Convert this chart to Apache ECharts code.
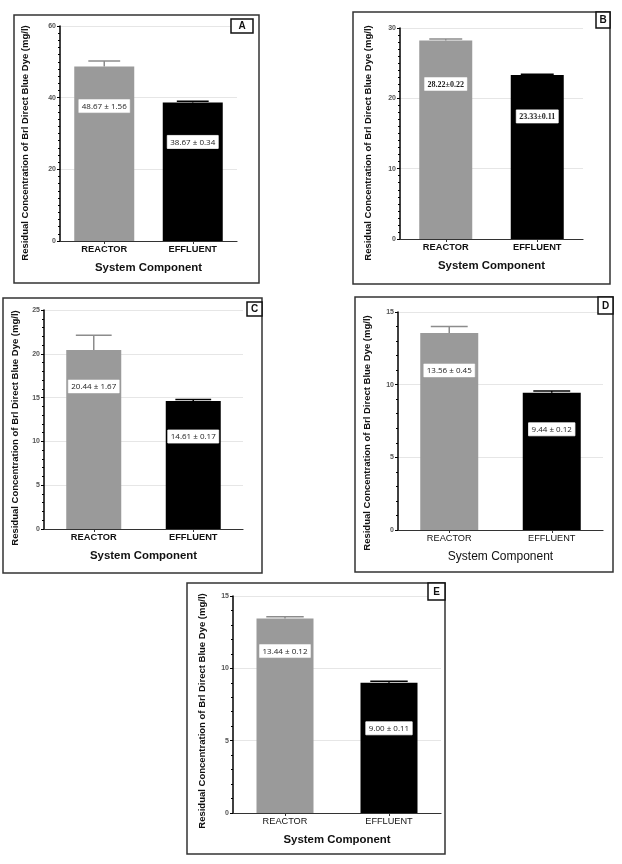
<!DOCTYPE html>
<html>
<head>
<meta charset="utf-8">
<script src="https://cdn.jsdelivr.net/npm/echarts@6/dist/echarts.min.js"></script>
<style>html,body{margin:0;padding:0;background:#fff;}#c{width:622px;height:864px;}</style>
</head>
<body>
<div id="c"></div>
<script>
// ---- data ----
const categories = ['REACTOR', 'EFFLUENT'];
const panelNames = ['A', 'B', 'C', 'D', 'E'];
const meanA = [48.67, 38.67], sdA = [1.56, 0.34];
const meanB = [28.22, 23.33], sdB = [0.22, 0.11];
const meanC = [20.44, 14.61], sdC = [1.67, 0.17];
const meanD = [13.56, 9.44], sdD = [0.45, 0.12];
const meanE = [13.44, 9.00], sdE = [0.12, 0.11];
const yMaxes = [60, 30, 25, 15, 15];
const yIntervals = [20, 10, 5, 5, 5];
const yTitle = 'Residual Concentration of Brl Direct Blue Dye (mg/l)';
const xTitle = 'System Component';

const means = [meanA, meanB, meanC, meanD, meanE];
const sds = [sdA, sdB, sdC, sdD, sdE];

// ---- layout / style ----
const grids = [
  {left: 60, top: 26, width: 177, height: 215},
  {left: 400, top: 28, width: 183, height: 211},
  {left: 44, top: 310, width: 199, height: 219},
  {left: 398, top: 312, width: 205, height: 218},
  {left: 233, top: 596, width: 208, height: 217}
];
const frames = [
  [14, 15, 245, 268], [353, 12, 257, 272], [3, 298, 259, 275], [355, 297, 258, 275], [187, 583, 258, 271]
];
const letterBoxes = [
  [231, 19, 22, 14], [596, 12, 14, 16], [247, 302, 15, 14], [598, 297, 15, 17], [428, 583, 17, 17]
];
const yTitlePos = [[25, 143], [368, 143], [15, 428], [367, 433], [202, 711]];
const barWidths = [60, 53, 55, 58, 57];
const minorSplits = [10, 10, 5, 5, 5];
const labelDist = [[33, 33], [37, 35], [30, 29], [31, 30], [26, 39]];
const boldCat = [true, true, true, false, false];
const boldX = [true, true, true, false, true];
const seps = [' ± ', '±', ' ± ', ' ± ', ' ± '];
const labelFonts = ['Open Sans', 'Liberation Serif', 'Open Sans', 'Open Sans', 'Open Sans'];
const barColors = ['#9a9a9a', '#000000'];
const errColors = ['#8c8c8c', '#000000'];

const option = {
  backgroundColor: '#fff',
  animation: false,
  grid: [], xAxis: [], yAxis: [], series: [], graphic: []
};

panelNames.forEach((p, i) => {
  option.grid.push(Object.assign({containLabel: false}, grids[i]));
  option.xAxis.push({
    type: 'category', gridIndex: i, data: categories,
    axisLine: {lineStyle: {color: '#333', width: 1.2}},
    axisTick: {show: true, alignWithLabel: true, length: 3, lineStyle: {color: '#333'}},
    axisLabel: {color: '#111', fontFamily: 'Liberation Sans', fontSize: boldCat[i] ? 9.3 : 9.2,
      fontWeight: boldCat[i] ? 'bold' : 'normal', margin: 4},
    name: xTitle, nameLocation: 'middle', nameGap: 21,
    nameTextStyle: {color: '#111', fontFamily: 'Liberation Sans', fontSize: boldX[i] ? 11.4 : 12,
      fontWeight: boldX[i] ? 'bold' : 'normal'}
  });
  option.yAxis.push({
    type: 'value', gridIndex: i, min: 0, max: yMaxes[i], interval: yIntervals[i],
    axisLine: {show: true, lineStyle: {color: '#000', width: 1.5}},
    axisTick: {show: true, length: 3, lineStyle: {color: '#000', width: 1}},
    minorTick: {show: true, splitNumber: minorSplits[i], length: 2, lineStyle: {color: '#000', width: 1}},
    axisLabel: {color: '#555', fontFamily: 'Liberation Sans', fontSize: 7, fontWeight: 'bold', margin: 4},
    splitLine: {show: true, lineStyle: {color: '#e6e6e6', width: 1}},
    minorSplitLine: {show: false}
  });
  const m = means[i], s = sds[i];
  option.series.push({
    type: 'bar', xAxisIndex: i, yAxisIndex: i, barWidth: barWidths[i], z: 2,
    data: m.map((v, k) => ({
      value: v,
      itemStyle: {color: barColors[k]},
      label: {
        show: true, position: 'insideTop', distance: labelDist[i][k],
        formatter: v.toFixed(2) + seps[i] + s[k].toFixed(2),
        backgroundColor: '#fff', borderColor: '#ccc', borderWidth: 0.5,
        padding: [3, 3, 2, 3], color: '#222', fontSize: 8,
        fontFamily: labelFonts[i], fontWeight: i === 1 ? 'bold' : 'normal'
      }
    }))
  });
  option.series.push({
    type: 'custom', xAxisIndex: i, yAxisIndex: i, z: 3,
    data: m.map((v, k) => [k, v, s[k]]),
    renderItem: function (params, api) {
      const k = api.value(0), v = api.value(1), e = api.value(2);
      const top = api.coord([k, v]);
      const hi = api.coord([k, v + e]);
      const hw = api.size([1, 0])[0] * 0.18;
      const col = errColors[k];
      return {
        type: 'group', children: [
          {type: 'line', shape: {x1: top[0], y1: top[1], x2: hi[0], y2: hi[1]}, style: {stroke: col, lineWidth: 1.5}},
          {type: 'line', shape: {x1: hi[0] - hw, y1: hi[1], x2: hi[0] + hw, y2: hi[1]}, style: {stroke: col, lineWidth: 1.5}}
        ]
      };
    }
  });
  const f = frames[i];
  option.graphic.push({
    type: 'rect', shape: {x: f[0], y: f[1], width: f[2], height: f[3]},
    style: {fill: 'none', stroke: '#333', lineWidth: 1.5}, z: 0
  });
  const b = letterBoxes[i];
  option.graphic.push({
    type: 'rect', shape: {x: b[0], y: b[1], width: b[2], height: b[3]},
    style: {fill: '#fff', stroke: '#111', lineWidth: 1.5}, z: 10
  });
  option.graphic.push({
    type: 'text', x: b[0] + b[2] / 2, y: b[1] + b[3] / 2 + 0.5, z: 11,
    style: {text: p, fill: '#111', font: 'bold 10px "Liberation Sans"', align: 'center', verticalAlign: 'middle'}
  });
  const t = yTitlePos[i];
  option.graphic.push({
    type: 'text', x: t[0], y: t[1], rotation: Math.PI / 2, z: 5,
    style: {text: yTitle, fill: '#111', font: 'bold 9.5px "Liberation Sans"', align: 'center', verticalAlign: 'middle'}
  });
});

const chart = echarts.init(document.getElementById('c'), null, {renderer: 'canvas'});
chart.setOption(option);
</script>
</body>
</html>
